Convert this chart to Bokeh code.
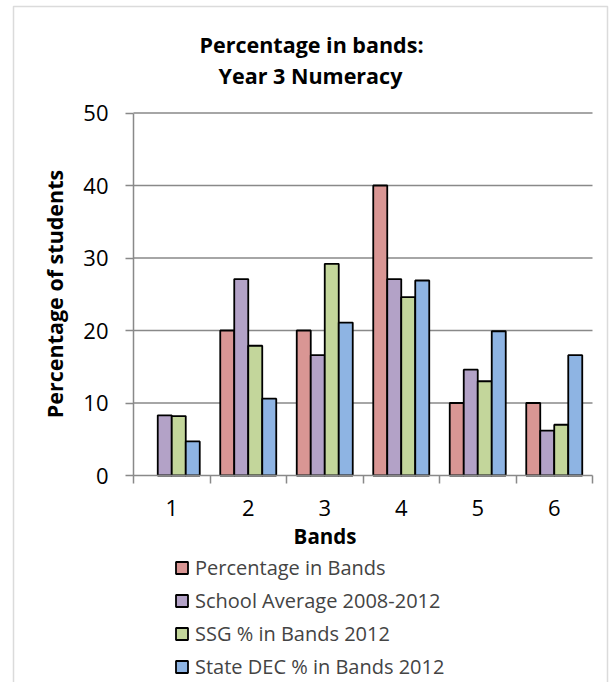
import math
import numpy as np
from bokeh.plotting import figure
from bokeh.models import (ColumnDataSource, FixedTicker, Label, Legend, LegendItem,
                          BoxAnnotation, Range1d, LinearAxis)
from bokeh.embed import file_html
from bokeh.resources import INLINE

# --- data -------------------------------------------------------------
bands = ["1", "2", "3", "4", "5", "6"]
series_names = ["Percentage in Bands", "School Average 2008-2012",
                "SSG % in Bands 2012", "State DEC % in Bands 2012"]
pct_in_bands = [0, 20, 20, 40, 10, 10]
school_avg = [8.3, 27.1, 16.6, 27.1, 14.6, 6.2]
ssg_pct = [8.2, 17.9, 29.2, 24.6, 13.0, 7.0]
state_dec_pct = [4.7, 10.6, 21.1, 26.9, 19.9, 16.6]
y_ticks = [0, 10, 20, 30, 40, 50]

series_values = [pct_in_bands, school_avg, ssg_pct, state_dec_pct]
colors = ["#D99694", "#B3A2C7", "#C3D69B", "#8EB4E3"]

GRAY = "#898989"
FONT = "Open Sans"
W, H = 610, 682
# plot area: band axis 0..6, value axis 0..50
PX_X = 76.5      # pixels per band
PX_Y = 7.25      # pixels per percent
X0, Y0 = 133, 475  # canvas position of the origin

p = figure(width=W, height=H, output_backend="svg", toolbar_location=None,
           x_range=Range1d(-X0 / PX_X, (W - X0) / PX_X),
           y_range=Range1d(-(H - Y0) / PX_Y, Y0 / PX_Y),
           x_axis_location=None, y_axis_location=None,
           min_border=0, background_fill_color="white", border_fill_color="white")
p.outline_line_color = None
p.grid.visible = False

# --- axes -------------------------------------------------------------
centers = np.arange(len(bands)) + 0.5

xaxis = LinearAxis(fixed_location=0, bounds=(0, len(bands)),
                   ticker=FixedTicker(ticks=list(centers),
                                      minor_ticks=list(range(len(bands) + 1))))
xaxis.major_label_overrides = {float(c): b for c, b in zip(centers, bands)}
xaxis.major_tick_out = 0
xaxis.major_tick_in = 0
xaxis.minor_tick_out = 8
xaxis.minor_tick_in = 0
xaxis.minor_tick_line_color = GRAY
xaxis.minor_tick_line_width = 1.5
xaxis.axis_line_color = GRAY
xaxis.axis_line_width = 1.5
xaxis.major_label_standoff = 16
xaxis.major_label_text_font = FONT
xaxis.major_label_text_font_size = "22px"
xaxis.major_label_text_color = "black"
p.add_layout(xaxis, "below")

yaxis = LinearAxis(fixed_location=0, bounds=(0, 50), ticker=FixedTicker(ticks=y_ticks))
yaxis.minor_tick_line_color = None
yaxis.major_tick_out = 8
yaxis.major_tick_in = 0
yaxis.major_tick_line_color = GRAY
yaxis.major_tick_line_width = 1.5
yaxis.axis_line_color = GRAY
yaxis.axis_line_width = 1.5
yaxis.major_label_standoff = 17
yaxis.major_label_text_font = FONT
yaxis.major_label_text_font_size = "22px"
yaxis.major_label_text_color = "black"
p.add_layout(yaxis, "left")

# horizontal gridlines across the band axis
grid_src = ColumnDataSource(dict(y=y_ticks[1:]))
p.segment(x0=0, x1=len(bands), y0="y", y1="y", source=grid_src,
          line_color=GRAY, line_width=1.5)

# --- bars -------------------------------------------------------------
bar_w = 0.183
offsets = [-1.5 * bar_w, -0.5 * bar_w, 0.5 * bar_w, 1.5 * bar_w]
legend_items = []
for name, vals, col, off in zip(series_names, series_values, colors, offsets):
    xs = [c + off for c, v in zip(centers, vals) if v > 0]
    tops = [v for v in vals if v > 0]
    src = ColumnDataSource(dict(x=xs, top=tops))
    r = p.vbar(x="x", top="top", bottom=0, width=bar_w, source=src,
               fill_color=col, line_color="black", line_width=1.8)
    legend_items.append(LegendItem(label=name, renderers=[r]))

# --- legend -----------------------------------------------------------
legend = Legend(items=legend_items, location=(174, 2),
                orientation="vertical", glyph_width=15, glyph_height=15,
                label_standoff=6, spacing=6, padding=0, margin=0,
                label_text_font=FONT, label_text_font_size="20px",
                border_line_color=None, background_fill_alpha=0)
p.add_layout(legend, "center")

# --- titles -----------------------------------------------------------
def ypx(cy):
    return (Y0 - cy) / PX_Y

def xpx(cx):
    return (cx - X0) / PX_X

title_kw = dict(text_font=FONT, text_font_style="bold", text_color="black",
                text_align="center", text_baseline="alphabetic")
p.add_layout(Label(x=xpx(311), y=ypx(44), text="Percentage in bands:",
                   text_font_size="21.5px", **title_kw))
p.add_layout(Label(x=xpx(310), y=ypx(75), text="Year 3 Numeracy",
                   text_font_size="21.5px", **title_kw))
p.add_layout(Label(x=xpx(324.5), y=ypx(535), text="Bands",
                   text_font_size="20.5px", **title_kw))
p.add_layout(Label(x=xpx(54), y=ypx(293.5), text="Percentage of students",
                   angle=math.pi / 2, text_font=FONT, text_font_style="bold",
                   text_font_size="21.5px", text_color="black",
                   text_align="center", text_baseline="middle"))

# --- chart border -----------------------------------------------------
p.add_layout(BoxAnnotation(left=xpx(13), right=xpx(607), top=ypx(6), bottom=ypx(700),
                           fill_alpha=0, line_color=GRAY, line_width=1.5))

open("out.html", "w").write(file_html(p, INLINE))
